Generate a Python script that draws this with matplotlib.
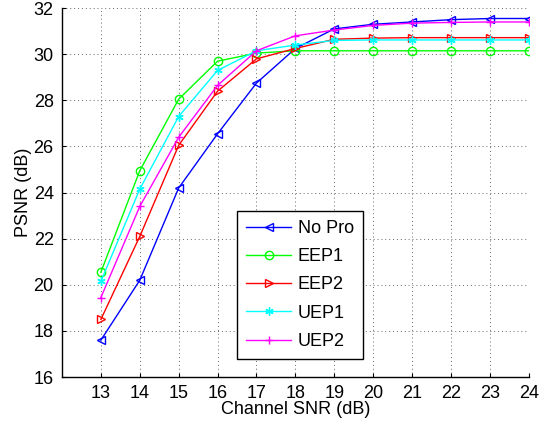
import numpy as np
import matplotlib
matplotlib.use("Agg")
import matplotlib.pyplot as plt

plt.rcParams['font.family'] = ['Liberation Sans', 'DejaVu Sans']

snr = [13, 14, 15, 16, 17, 18, 19, 20, 21, 22, 23, 24]
no_pro = [17.6, 20.2, 24.2, 26.55, 28.75, 30.25, 31.1, 31.3, 31.4, 31.5, 31.55, 31.55]
eep1 = [20.55, 24.95, 28.05, 29.7, 30.05, 30.15, 30.15, 30.15, 30.15, 30.15, 30.15, 30.15]
eep2 = [18.5, 22.1, 26.05, 28.4, 29.8, 30.25, 30.65, 30.7, 30.72, 30.72, 30.72, 30.72]
uep1 = [20.15, 24.15, 27.3, 29.3, 30.15, 30.4, 30.6, 30.62, 30.62, 30.62, 30.62, 30.62]
uep2 = [19.45, 23.4, 26.4, 28.65, 30.15, 30.8, 31.05, 31.25, 31.35, 31.38, 31.4, 31.4]

series = [
    ("No Pro", no_pro, '#0000ff', '<'),
    ("EEP1", eep1, '#00ff00', 'o'),
    ("EEP2", eep2, '#ff0000', '>'),
    ("UEP1", uep1, '#00ffff', (6, 2, 0)),
    ("UEP2", uep2, '#ff00ff', '+'),
]

fig = plt.figure(figsize=(5.39, 4.28), dpi=100)
ax = fig.add_axes([0.115, 0.119, 0.866, 0.862])

for name, vals, col, mk in series:
    ax.plot(snr, vals, color=col, marker=mk, markersize=6, markerfacecolor='none',
            markeredgecolor=col, markeredgewidth=1, linewidth=1, label=name)

ax.set_xlim(12, 24)
ax.set_ylim(16, 32)
ax.set_xticks(snr)
ax.set_yticks(np.arange(16, 33, 2))
ax.grid(True, linestyle=(0, (1, 3)), color='#666666', linewidth=0.7)
ax.tick_params(direction='in', labelsize=13, length=3, colors='black', pad=6)
for s in ['top', 'right']:
    ax.spines[s].set_visible(False)
for s in ['left', 'bottom']:
    ax.spines[s].set_linewidth(1)

ax.set_xlabel('Channel SNR (dB)', fontsize=13, labelpad=-1)
ax.set_ylabel('PSNR (dB)', fontsize=13, labelpad=1)

leg = ax.legend(loc='upper left', bbox_to_anchor=(0.375, 0.45), borderaxespad=0,
                fontsize=13, fancybox=False, framealpha=1,
                edgecolor='black', handlelength=2.5, labelspacing=0.62,
                borderpad=0.5, handletextpad=0.35, numpoints=1)
leg.get_frame().set_linewidth(1)

fig.savefig('out.png', dpi=100)
